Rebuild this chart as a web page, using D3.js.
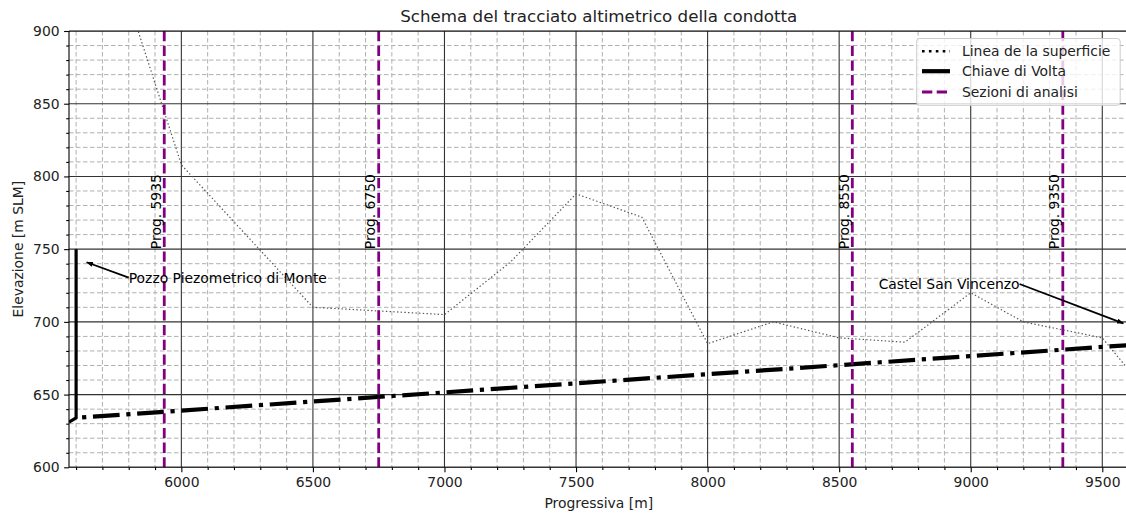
<!DOCTYPE html>
<html>
<head>
<meta charset="utf-8">
<script src="https://cdn.jsdelivr.net/npm/d3@7"></script>
<style>
  html, body { margin: 0; padding: 0; background: #fff; }
  svg { display: block; font-family: "DejaVu Sans", sans-serif; }
</style>
</head>
<body>
<svg id="chart" width="1126" height="513"></svg>
<script>
// ---------------- data ----------------
const xTicks = [6000, 6500, 7000, 7500, 8000, 8500, 9000, 9500];
const yTicks = [600, 650, 700, 750, 800, 850, 900];

const surfaceX = [5750, 6000, 6500, 7000, 7250, 7500, 7750, 8000, 8250, 8500, 8750, 9000, 9200, 9500, 9600];
const surfaceY = [948, 808, 710, 705, 741, 788, 772, 685, 700, 689, 686, 720, 700, 689, 667];

const shaftX = [5573, 5600, 5600];
const shaftY = [631, 634, 750];

const crownX = [5600, 9600];
const crownY = [634, 684];

const sectionX = [5935, 6750, 8550, 9350];
const sectionLabels = ["Prog. 5935", "Prog. 6750", "Prog. 8550", "Prog. 9350"];
const sectionLabelY = 750;

const annotTexts = ["Pozzo Piezometrico di Monte", "Castel San Vincenzo"];
const annotPointX = [5640, 9580];
const annotPointY = [741, 699];
const annotTextX = [5800, 8650];
const annotTextY = [727, 722.6];
const annotSide = ["left", "right"];

const legendLabels = ["Linea de la superficie", "Chiave di Volta", "Sezioni di analisi"];

// ---------------- layout ----------------
const svg = d3.select("#chart");
const L = 69, T = 31, R = 1128.6, B = 467.3;
const x = d3.scaleLinear().domain([5573, 9600]).range([L, R]);
const y = d3.scaleLinear().domain([600, 900]).range([B, T]);

const defs = svg.append("defs");
defs.append("clipPath").attr("id", "clip")
  .append("rect").attr("x", L).attr("y", T).attr("width", R - L).attr("height", B - T);
defs.append("marker").attr("id", "arrow").attr("viewBox", "0 0 10 10")
  .attr("refX", 9).attr("refY", 5).attr("markerWidth", 7).attr("markerHeight", 7)
  .attr("markerUnits", "userSpaceOnUse").attr("orient", "auto")
  .append("path").attr("d", "M0,1.5 L10,5 L0,8.5 z").attr("fill", "#000");

const minorX = d3.range(5600, 9601, 100).filter(v => v % 500 !== 0);
const minorY = d3.range(600, 901, 10).filter(v => v % 50 !== 0);

// grid
const grid = svg.append("g").attr("clip-path", "url(#clip)");
grid.selectAll(".mgx").data(minorX).enter().append("line")
  .attr("x1", d => x(d)).attr("x2", d => x(d)).attr("y1", T).attr("y2", B)
  .attr("stroke", "#b0b0b0").attr("stroke-width", 1).attr("stroke-dasharray", "4.5,2.5");
grid.selectAll(".mgy").data(minorY).enter().append("line")
  .attr("y1", d => y(d)).attr("y2", d => y(d)).attr("x1", L).attr("x2", R)
  .attr("stroke", "#b0b0b0").attr("stroke-width", 1).attr("stroke-dasharray", "4.5,2.5");
grid.selectAll(".gx").data(xTicks).enter().append("line")
  .attr("x1", d => x(d)).attr("x2", d => x(d)).attr("y1", T).attr("y2", B)
  .attr("stroke", "#333").attr("stroke-width", 1.1);
grid.selectAll(".gy").data(yTicks).enter().append("line")
  .attr("y1", d => y(d)).attr("y2", d => y(d)).attr("x1", L).attr("x2", R)
  .attr("stroke", "#333").attr("stroke-width", 1.1);

// data lines
const plot = svg.append("g").attr("clip-path", "url(#clip)");
const line = d3.line().x(d => x(d[0])).y(d => y(d[1]));

plot.append("path").datum(surfaceX.map((v, i) => [v, surfaceY[i]]))
  .attr("d", line).attr("fill", "none").attr("stroke", "#555")
  .attr("stroke-width", 1.2).attr("stroke-dasharray", "1.4,2.3");

plot.append("path").datum(crownX.map((v, i) => [v, crownY[i]]))
  .attr("d", line).attr("fill", "none").attr("stroke", "#000")
  .attr("stroke-width", 4.2).attr("stroke-dasharray", "26.7,6.7,4.2,6.7")
  .attr("stroke-dashoffset", 27.4);

plot.append("path").datum(shaftX.map((v, i) => [v, shaftY[i]]))
  .attr("d", line).attr("fill", "none").attr("stroke", "#000")
  .attr("stroke-width", 3.2).attr("stroke-linejoin", "miter");

plot.selectAll(".sec").data(sectionX).enter().append("line")
  .attr("x1", d => x(d)).attr("x2", d => x(d)).attr("y1", T).attr("y2", B)
  .attr("stroke", "#800080").attr("stroke-width", 2.8).attr("stroke-dasharray", "10.3,4.4");

// section labels
svg.selectAll(".secl").data(sectionX).enter().append("text")
  .attr("transform", d => `translate(${x(d) - 3.6},${y(sectionLabelY)}) rotate(-90)`)
  .attr("font-size", 13.9).attr("fill", "#000")
  .text((d, i) => sectionLabels[i]);

// annotations
annotTexts.forEach((t, i) => {
  const tx = x(annotTextX[i]), ty = y(annotTextY[i]);
  const txt = svg.append("text").attr("x", tx).attr("y", ty)
    .attr("font-size", 13.9).attr("fill", "#000").text(t);
  const w = txt.node().getComputedTextLength();
  const sx = annotSide[i] === "left" ? tx : tx + w;
  const sy = ty - 5;
  svg.insert("line", "text")
    .attr("x1", sx).attr("y1", sy)
    .attr("x2", x(annotPointX[i])).attr("y2", y(annotPointY[i]))
    .attr("stroke", "#000").attr("stroke-width", 1.8)
    .attr("marker-end", "url(#arrow)");
});

// axes
const axX = svg.append("g").attr("transform", `translate(0,${B})`)
  .call(d3.axisBottom(x).tickValues(xTicks).tickSize(4.9).tickPadding(4.5).tickFormat(d3.format("d")));
const axXm = svg.append("g").attr("transform", `translate(0,${B})`)
  .call(d3.axisBottom(x).tickValues(minorX).tickSize(2.8).tickFormat(""));
const axY = svg.append("g").attr("transform", `translate(${L},0)`)
  .call(d3.axisLeft(y).tickValues(yTicks).tickSize(4.9).tickPadding(4.5).tickFormat(d3.format("d")));
const axYm = svg.append("g").attr("transform", `translate(${L},0)`)
  .call(d3.axisLeft(y).tickValues(minorY).tickSize(2.8).tickFormat(""));
[axX, axXm, axY, axYm].forEach(g => {
  g.select(".domain").remove();
  g.selectAll(".tick line").attr("stroke", "#000").attr("stroke-width", 1.1);
  g.selectAll("text").attr("font-size", 13.9).attr("fill", "#222")
    .attr("font-family", "DejaVu Sans, sans-serif");
});

// spines
svg.append("line").attr("x1", L).attr("x2", L).attr("y1", T).attr("y2", B).attr("stroke", "#000").attr("stroke-width", 1.1);
svg.append("line").attr("x1", L).attr("x2", R).attr("y1", B).attr("y2", B).attr("stroke", "#000").attr("stroke-width", 1.1);
svg.append("line").attr("x1", L).attr("x2", R).attr("y1", T).attr("y2", T).attr("stroke", "#000").attr("stroke-width", 1.1);

// titles
svg.append("text").attr("x", (L + R) / 2).attr("y", 22).attr("text-anchor", "middle")
  .attr("font-size", 16.7).attr("fill", "#222").text("Schema del tracciato altimetrico della condotta");
svg.append("text").attr("x", (L + R) / 2).attr("y", 508).attr("text-anchor", "middle")
  .attr("font-size", 13.9).attr("fill", "#222").text("Progressiva [m]");
svg.append("text").attr("transform", `translate(23,${(T + B) / 2}) rotate(-90)`).attr("text-anchor", "middle")
  .attr("font-size", 13.9).attr("fill", "#222").text("Elevazione [m SLM]");

// legend
const lg = svg.append("g");
lg.append("rect").attr("x", 916.7).attr("y", 38.5).attr("width", 203.5).attr("height", 66.8)
  .attr("rx", 3).attr("fill", "#fff").attr("fill-opacity", 0.8)
  .attr("stroke", "#ccc").attr("stroke-width", 1);
const rowsY = [51.3, 71.2, 92];
const hx1 = 922, hx2 = 950;
lg.append("line").attr("x1", hx1).attr("x2", hx2).attr("y1", rowsY[0]).attr("y2", rowsY[0])
  .attr("stroke", "#000").attr("stroke-width", 2.6).attr("stroke-dasharray", "2.6,4.3");
lg.append("line").attr("x1", hx1).attr("x2", hx2).attr("y1", rowsY[1]).attr("y2", rowsY[1])
  .attr("stroke", "#000").attr("stroke-width", 4.2);
lg.append("line").attr("x1", hx1).attr("x2", hx2).attr("y1", rowsY[2]).attr("y2", rowsY[2])
  .attr("stroke", "#800080").attr("stroke-width", 2.8).attr("stroke-dasharray", "10.3,4.4");
lg.selectAll(".lt").data(legendLabels).enter().append("text")
  .attr("x", 962).attr("y", (d, i) => rowsY[i] + 5).attr("font-size", 13.9).attr("fill", "#222")
  .text(d => d);
</script>
</body>
</html>
